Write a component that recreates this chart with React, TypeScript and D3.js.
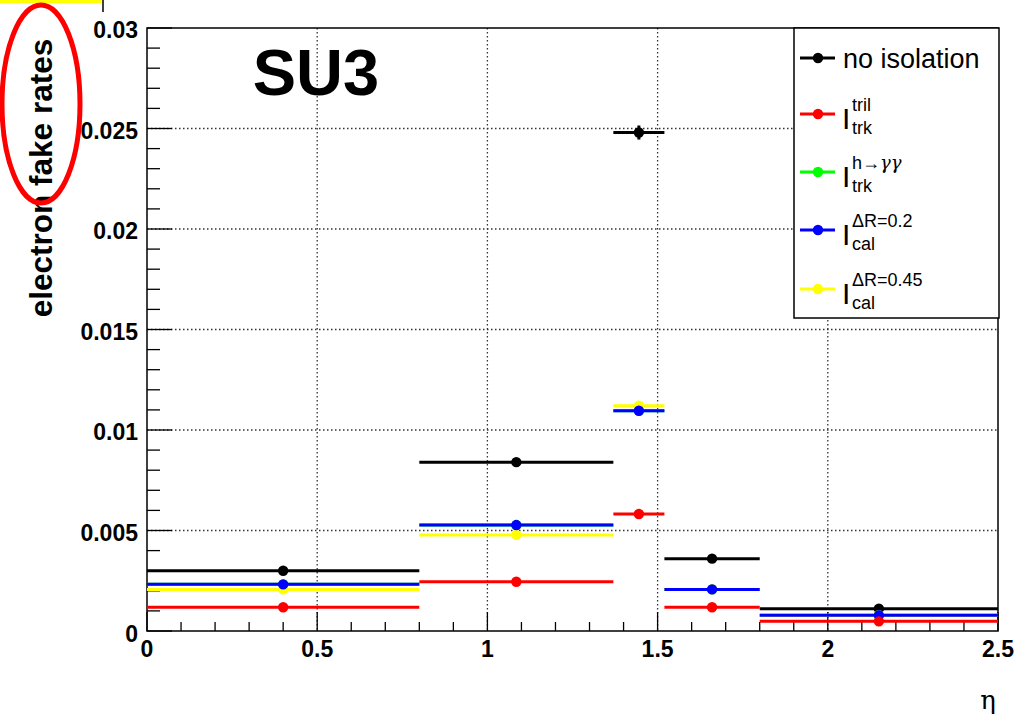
import React from "react";
import * as d3 from "d3";

// eta bins and bin centres
const binEdges = [0, 0.8, 1.37, 1.52, 1.8, 2.5];
const binCenters = [0.4, 1.085, 1.445, 1.66, 2.15];

// fake rates per bin
const noIsolation = [0.003, 0.0084, 0.0248, 0.0036, 0.00111];
const noIsolationErr = [0.00005, 0.0001, 0.00035, 0.0001, 0.00005];
const trkTril = [0.00118, 0.00245, 0.00582, 0.00118, 0.00048];
const trkHgg = [0.00232, 0.00527, 0.01096, 0.00207, 0.00078];
const cal02 = [0.00232, 0.00527, 0.01096, 0.00207, 0.00078];
const cal045 = [0.00207, 0.00478, 0.01121, 0.00207, 0.00078];

const xTicks = [0, 0.5, 1, 1.5, 2, 2.5];
const xTickLabels = ["0", "0.5", "1", "1.5", "2", "2.5"];
const yTicks = [0, 0.005, 0.01, 0.015, 0.02, 0.025, 0.03];
const yTickLabels = ["0", "0.005", "0.01", "0.015", "0.02", "0.025", "0.03"];

const series = [
  { name: "no isolation", color: "#000000", values: noIsolation, errs: noIsolationErr },
  { name: "tril", color: "#ff0000", values: trkTril, errs: null },
  { name: "hgg", color: "#00ff00", values: trkHgg, errs: null },
  { name: "cal02", color: "#0000ff", values: cal02, errs: null },
  { name: "cal045", color: "#ffff00", values: cal045, errs: null },
];
// draw order on the canvas (red ends up on top)
const drawOrder = [0, 2, 4, 3, 1];

const font = "'Liberation Sans', Arial, Helvetica, sans-serif";

const App = () => {
  const W = 1016;
  const H = 717;
  const left = 147, right = 998, top = 28, bottom = 631;

  const x = d3.scaleLinear().domain([0, 2.5]).range([left, right]);
  const y = d3.scaleLinear().domain([0, 0.03]).range([bottom, top]);

  const xMinor = d3.range(0, 2.5001, 0.1).map((v) => +v.toFixed(2));
  const yMinor = d3.range(0, 0.03001, 0.001).map((v) => +v.toFixed(4));

  const legendX = 794, legendY = 28, legendW = 205, legendH = 290;
  const legendRows = [58, 114, 172, 230, 289];
  const legendItems = [
    { color: "#000000", label: "no isolation" },
    { color: "#ff0000", sup: "tril", sub: "trk" },
    { color: "#00ff00", sup: "h\u2192", supG: "\u03b3\u03b3", sub: "trk" },
    { color: "#0000ff", sup: "\u0394R=0.2", sub: "cal" },
    { color: "#ffff00", sup: "\u0394R=0.45", sub: "cal" },
  ];

  return (
    <svg width={W} height={H} style={{ position: "absolute", left: 0, top: 0, background: "#fff" }} fontFamily={font}>
      <rect x={0} y={0} width={W} height={H} fill="#fff" />
      {/* cropped canvas leftovers */}
      <rect x={0} y={0} width={101} height={3} fill="#ffff00" />
      <line x1={103} y1={0} x2={103} y2={12} stroke="#000" strokeWidth={1.5} />

      {/* grid */}
      {xTicks.slice(1, -1).map((t) => (
        <line key={"gx" + t} x1={x(t)} x2={x(t)} y1={top} y2={bottom} stroke="#333" strokeWidth={1.3} strokeDasharray="1.5 2.5" />
      ))}
      {yTicks.slice(1, -1).map((t) => (
        <line key={"gy" + t} x1={left} x2={right} y1={y(t)} y2={y(t)} stroke="#333" strokeWidth={1.3} strokeDasharray="1.5 2.5" />
      ))}

      {/* ticks */}
      {xMinor.map((t, i) => (
        <line key={"xt" + i} x1={x(t)} x2={x(t)} y1={bottom} y2={bottom - (i % 5 === 0 ? 19 : 9)} stroke="#000" strokeWidth={1.3} />
      ))}
      {yMinor.map((t, i) => (
        <line key={"yt" + i} x1={left} x2={left + (i % 5 === 0 ? 25 : 13)} y1={y(t)} y2={y(t)} stroke="#000" strokeWidth={1.3} />
      ))}

      {/* frame */}
      <rect x={left} y={top} width={right - left} height={bottom - top} fill="none" stroke="#000" strokeWidth={1.5} />

      {/* data */}
      {drawOrder.map((si) => {
        const s = series[si];
        return (
          <g key={s.name}>
            {s.values.map((v, i) => (
              <g key={i}>
                <line x1={x(binEdges[i])} x2={x(binEdges[i + 1])} y1={y(v)} y2={y(v)} stroke={s.color} strokeWidth={3} />
                {s.errs && (
                  <line x1={x(binCenters[i])} x2={x(binCenters[i])} y1={y(v - s.errs[i])} y2={y(v + s.errs[i])} stroke={s.color} strokeWidth={3} />
                )}
                <circle cx={x(binCenters[i])} cy={y(v)} r={5.2} fill={s.color} />
              </g>
            ))}
          </g>
        );
      })}

      {/* legend */}
      <rect x={legendX} y={legendY} width={legendW} height={legendH} fill="#fff" stroke="#000" strokeWidth={1.5} />
      {legendItems.map((it, i) => {
        const cy = legendRows[i];
        return (
          <g key={"lg" + i}>
            <line x1={800} x2={835} y1={cy} y2={cy} stroke={it.color} strokeWidth={3} />
            <circle cx={818} cy={cy} r={5.2} fill={it.color} />
            {it.label ? (
              <text x={843} y={cy + 10} fontSize={27}>{it.label}</text>
            ) : (
              <g>
                <text x={842} y={cy + 15} fontSize={30}>I</text>
                <text x={852} y={cy - 3} fontSize={18}>
                  {it.sup}
                  {it.supG && <tspan fontFamily="'DejaVu Serif', 'Liberation Serif', serif" fontStyle="italic">{it.supG}</tspan>}
                </text>
                <text x={852} y={cy + 20} fontSize={18}>{it.sub}</text>
              </g>
            )}
          </g>
        );
      })}

      {/* tick labels */}
      {xTicks.map((t, i) => (
        <text key={"xl" + t} x={x(t)} y={657} fontSize={23} fontWeight="bold" textAnchor="middle">{xTickLabels[i]}</text>
      ))}
      {yTicks.map((t, i) => (
        <text key={"yl" + t} x={138} y={i === 0 ? y(t) + 11 : y(t) + 10} fontSize={23} fontWeight="bold" textAnchor="end">{yTickLabels[i]}</text>
      ))}

      {/* titles */}
      <text x={316} y={95} fontSize={65} fontWeight="bold" textAnchor="middle">SU3</text>
      <text transform="translate(52,178) rotate(-90)" fontSize={31.5} fontWeight="bold" textAnchor="middle">electron fake rates</text>
      <text x={988} y={709} fontSize={26} textAnchor="middle" fontFamily="'DejaVu Serif', 'Liberation Serif', serif">{"\u03b7"}</text>

      {/* highlight ellipse */}
      <ellipse cx={41} cy={104} rx={39} ry={99} fill="none" stroke="#ff0000" strokeWidth={5} />
    </svg>
  );
};

export default App;
